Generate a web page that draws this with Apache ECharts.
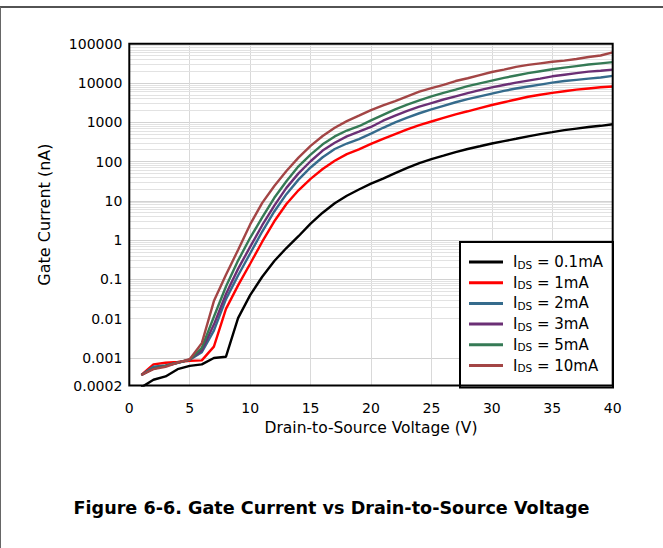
<!DOCTYPE html>
<html>
<head>
<meta charset="utf-8">
<script src="https://cdn.jsdelivr.net/npm/echarts@6/dist/echarts.min.js"></script>
<style>
html, body { margin: 0; padding: 0; background: #fff; }
#chart { width: 663px; height: 548px; }
</style>
</head>
<body>
<div id="chart"></div>
<script>
// Drain-to-source voltage (V)
const voltage = [1,2,3,4,5,6,7,8,9,10,11,12,13,14,15,16,17,18,19,20,
                 21,22,23,24,25,26,27,28,29,30,31,32,33,34,35,36,37,38,39,40];

// Gate current (nA) for each drain current
const ids0p1mA = [0.00018,0.00028,0.00034,0.00052,0.00063,0.00069,0.0010,0.00108,0.0104,0.040,
                  0.117,0.295,0.63,1.26,2.63,5.0,8.7,13.5,19.5,27.5,
                  37,51,69,91,115,141,174,209,245,288,
                  331,380,437,501,562,631,692,759,813,891];
const ids1mA = [0.00037,0.00069,0.00076,0.00079,0.00085,0.00087,0.00195,0.0178,0.0708,0.251,
                0.912,3.02,8.32,18.6,36.3,64.6,105,155,204,282,
                380,501,661,851,1047,1288,1585,1905,2291,2754,
                3236,3802,4467,5012,5623,6166,6761,7244,7762,8128];
const ids2mA = [0.00037,0.00060,0.00065,0.00076,0.00091,0.00141,0.0050,0.0316,0.126,0.457,
                1.66,5.37,14.8,34.7,70.8,129,209,288,372,513,
                724,1000,1318,1698,2138,2630,3236,3890,4571,5370,
                6310,7244,8128,9120,10233,11220,12023,12882,13804,15136];
const ids3mA = [0.00037,0.00054,0.00063,0.00076,0.00091,0.00158,0.0071,0.0427,0.186,0.676,
                2.40,7.59,21.4,50.1,102,191,302,437,575,759,
                1096,1479,1950,2512,3090,3802,4571,5495,6607,7762,
                8913,10233,11482,12882,14791,16218,17783,19498,20417,21878];
const ids5mA = [0.00037,0.00054,0.00063,0.00076,0.00091,0.00182,0.0112,0.0661,0.302,1.15,
                3.80,12.0,31.6,75.9,151,275,437,617,794,1122,
                1549,2138,2818,3631,4571,5623,6761,8318,9772,11482,
                13490,15488,17783,19953,22387,24547,26915,29512,31623,33884];
const ids10mA = [0.00037,0.00052,0.00060,0.00076,0.00093,0.00240,0.0282,0.132,0.562,2.51,
                 8.91,24.0,57.5,126,251,447,724,1072,1479,2042,
                 2692,3467,4571,6026,7413,8913,11220,13183,15849,19055,
                 21878,25704,28840,31623,34674,37154,40738,45709,50119,60256];

const seriesLabels = ['0.1mA', '1mA', '2mA', '3mA', '5mA', '10mA'];
const seriesValues = [ids0p1mA, ids1mA, ids2mA, ids3mA, ids5mA, ids10mA];
const xTicks = [0, 5, 10, 15, 20, 25, 30, 35, 40];

const colors = ['#000000', '#ff0000', '#356b8c', '#6b2f75', '#357a55', '#a34545'];
const FONT = '"DejaVu Sans", "Liberation Sans", Arial, sans-serif';

// minor log grid lines (2..9 x each decade)
const minorGrid = [];
for (let k = -4; k <= 4; k++) {
  for (let m = 2; m <= 9; m++) {
    const v = +(m * Math.pow(10, k)).toPrecision(3);
    if (v > 0.0002 && v < 100000) minorGrid.push({ yAxis: v });
  }
}

const names = seriesLabels.map(l => 'IDS = ' + l);

const series = [{
  name: '__minor',
  type: 'line',
  data: [],
  silent: true,
  z: 1,
  markLine: {
    silent: true,
    symbol: ['none', 'none'],
    label: { show: false },
    z: 1,
    animation: false,
    lineStyle: { type: 'solid', color: '#e2e2e2', width: 1 },
    emphasis: { disabled: true },
    data: minorGrid
  }
}];
seriesValues.forEach((vals, i) => {
  series.push({
    name: names[i],
    type: 'line',
    data: voltage.map((v, j) => [v, vals[j]]),
    showSymbol: false,
    symbol: 'none',
    smooth: false,
    clip: true,
    z: 2,
    itemStyle: { color: colors[i] },
    lineStyle: { color: colors[i], width: 2.4 }
  });
});

const chart = echarts.init(document.getElementById('chart'), null, { renderer: 'svg' });
chart.setOption({
  animation: false,
  backgroundColor: '#ffffff',
  textStyle: { fontFamily: FONT },
  title: {
    text: 'Figure 6-6. Gate Current vs Drain-to-Source Voltage',
    left: 'center',
    top: 494,
    textStyle: { fontSize: 17.6, fontWeight: 'bold', color: '#000', fontFamily: FONT }
  },
  graphic: [
    { type: 'line', shape: { x1: 0, y1: 7, x2: 663, y2: 7 }, style: { stroke: '#1a1a1a', lineWidth: 1.5 }, silent: true },
    { type: 'line', shape: { x1: 0.5, y1: 7, x2: 0.5, y2: 548 }, style: { stroke: '#666', lineWidth: 1 }, silent: true }
  ],
  grid: {
    show: true,
    left: 129.3,
    top: 43.7,
    width: 483.4,
    height: 341.8,
    borderColor: '#000',
    borderWidth: 2,
    backgroundColor: 'transparent',
    z: 10
  },
  legend: {
    data: names,
    orient: 'vertical',
    left: 460,
    top: 242,
    padding: [12.5, 10, 14, 9],
    itemWidth: 34,
    itemHeight: 3,
    itemGap: 5.2,
    icon: 'rect',
    backgroundColor: '#ffffff',
    borderColor: '#000',
    borderWidth: 2,
    borderRadius: 0,
    selectedMode: false,
    formatter: name => '{n|I}{s|DS}{n|' + name.slice(3) + '}',
    textStyle: {
      color: '#000',
      fontFamily: FONT,
      padding: [0, 0, 0, 5],
      rich: {
        n: { fontSize: 15, lineHeight: 16, color: '#000', fontFamily: FONT },
        s: { fontSize: 10.5, lineHeight: 10, verticalAlign: 'bottom', color: '#000', fontFamily: FONT }
      }
    }
  },
  xAxis: {
    type: 'value',
    min: 0,
    max: 40,
    interval: 5,
    axisLine: { show: false },
    axisTick: { show: false },
    splitLine: { show: true, lineStyle: { color: '#d9d9d9', width: 1 } },
    axisLabel: {
      margin: 15,
      fontSize: 14,
      color: '#000',
      fontFamily: FONT,
      formatter: v => (xTicks.indexOf(v) >= 0 ? String(v) : '')
    },
    name: 'Drain-to-Source Voltage (V)',
    nameLocation: 'middle',
    nameGap: 34.5,
    nameTextStyle: { fontSize: 15.5, color: '#000', fontFamily: FONT }
  },
  yAxis: {
    type: 'log',
    logBase: 10,
    min: 0.0002,
    max: 100000,
    axisLine: { show: false },
    axisTick: { show: false },
    splitLine: { show: true, lineStyle: { color: '#d2d2d2', width: 1 } },
    axisLabel: {
      margin: 7,
      fontSize: 14,
      color: '#000',
      fontFamily: FONT,
      formatter: v => String(+Number(v).toPrecision(6))
    },
    name: 'Gate Current (nA)',
    nameLocation: 'middle',
    nameRotate: 90,
    nameGap: 77,
    nameTextStyle: { fontSize: 16, color: '#000', fontFamily: FONT }
  },
  series: series
});
</script>
</body>
</html>
